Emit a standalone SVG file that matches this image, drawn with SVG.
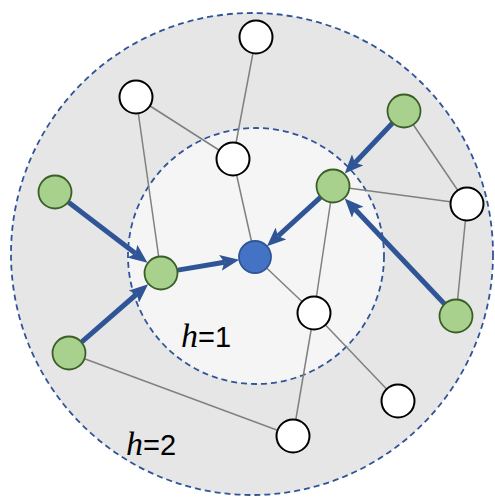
<svg xmlns="http://www.w3.org/2000/svg" width="495" height="498" viewBox="0 0 495 498">
<style>
.ring{stroke:#2F5597;stroke-width:1.8;stroke-dasharray:6 4}
.edge{stroke:#808080;stroke-width:1.5;fill:none}
.arr{stroke:#2F5597;stroke-width:5;fill:none;marker-end:url(#ah)}
.w{fill:#FFFFFF;stroke:#000000;stroke-width:2}
.g{fill:#A9D18E;stroke:#3B5E26;stroke-width:1.8}
.b{fill:#4472C4;stroke:#2F5597;stroke-width:1.8}
.lbl{font-family:"Liberation Sans",sans-serif;font-size:29px;fill:#000}
.hv{font-family:"Liberation Serif",serif;font-style:italic;font-size:34px}
</style>
<defs>
<marker id="ah" markerUnits="userSpaceOnUse" markerWidth="19" markerHeight="16" refX="4" refY="8" orient="auto" viewBox="0 0 19 16">
<path d="M0,0 L19,8 L0,16 L4,8 Z" fill="#2F5597"/>
</marker>
</defs>
<g id="rings">
<circle class="ring" cx="252" cy="254" r="241" fill="#E6E6E6"/>
<circle class="ring" cx="256" cy="256" r="128" fill="#F5F5F5"/>
</g>
<g id="connectors">
<line class="edge" x1="256" y1="37" x2="233" y2="159"/>
<line class="edge" x1="136" y1="97" x2="233" y2="159"/>
<line class="edge" x1="136" y1="97" x2="161" y2="273"/>
<line class="edge" x1="233" y1="159" x2="255" y2="257"/>
<line class="edge" x1="255" y1="257" x2="314" y2="313"/>
<line class="edge" x1="314" y1="313" x2="398" y2="401"/>
<line class="edge" x1="314" y1="313" x2="293" y2="436"/>
<line class="edge" x1="333" y1="186" x2="314" y2="313"/>
<line class="edge" x1="333" y1="186" x2="467" y2="204"/>
<line class="edge" x1="404" y1="111" x2="467" y2="204"/>
<line class="edge" x1="467" y1="204" x2="456" y2="316"/>
<line class="edge" x1="69" y1="353" x2="293" y2="436"/>
<line class="arr" x1="68.5" y1="202.3" x2="135.6" y2="253.6"/>
<line class="arr" x1="81.8" y1="341.8" x2="136.8" y2="294.0"/>
<line class="arr" x1="177.8" y1="270.1" x2="224.4" y2="262.2"/>
<line class="arr" x1="392.3" y1="123.3" x2="355.0" y2="162.7"/>
<line class="arr" x1="444.3" y1="303.7" x2="355.0" y2="209.3"/>
<line class="arr" x1="320.4" y1="197.4" x2="278.0" y2="236.2"/>
</g>
<g id="n_top"><circle class="w" cx="256" cy="37" r="16.5"/></g>
<g id="n_ul"><circle class="w" cx="136" cy="97" r="16.5"/></g>
<g id="n_ct"><circle class="w" cx="233" cy="159" r="16.5"/></g>
<g id="n_r"><circle class="w" cx="467" cy="204" r="16.5"/></g>
<g id="n_m"><circle class="w" cx="314" cy="313" r="16.5"/></g>
<g id="n_lr"><circle class="w" cx="398" cy="401" r="16.5"/></g>
<g id="n_b"><circle class="w" cx="293" cy="436" r="16.5"/></g>
<g id="g_left"><circle class="g" cx="55" cy="192" r="16.5"/></g>
<g id="g_ml"><circle class="g" cx="161" cy="273" r="16.5"/></g>
<g id="g_ll"><circle class="g" cx="69" cy="353" r="16.5"/></g>
<g id="g_ur"><circle class="g" cx="404" cy="111" r="16.5"/></g>
<g id="g_mr"><circle class="g" cx="333" cy="186" r="16.5"/></g>
<g id="g_lr"><circle class="g" cx="456" cy="316" r="16.5"/></g>
<g id="center"><circle class="b" cx="255" cy="257" r="16"/></g>
<g id="labels">
<text class="lbl" x="181" y="347"><tspan class="hv">h</tspan>=1</text>
<text class="lbl" x="126" y="455"><tspan class="hv">h</tspan>=2</text>
</g>
</svg>
